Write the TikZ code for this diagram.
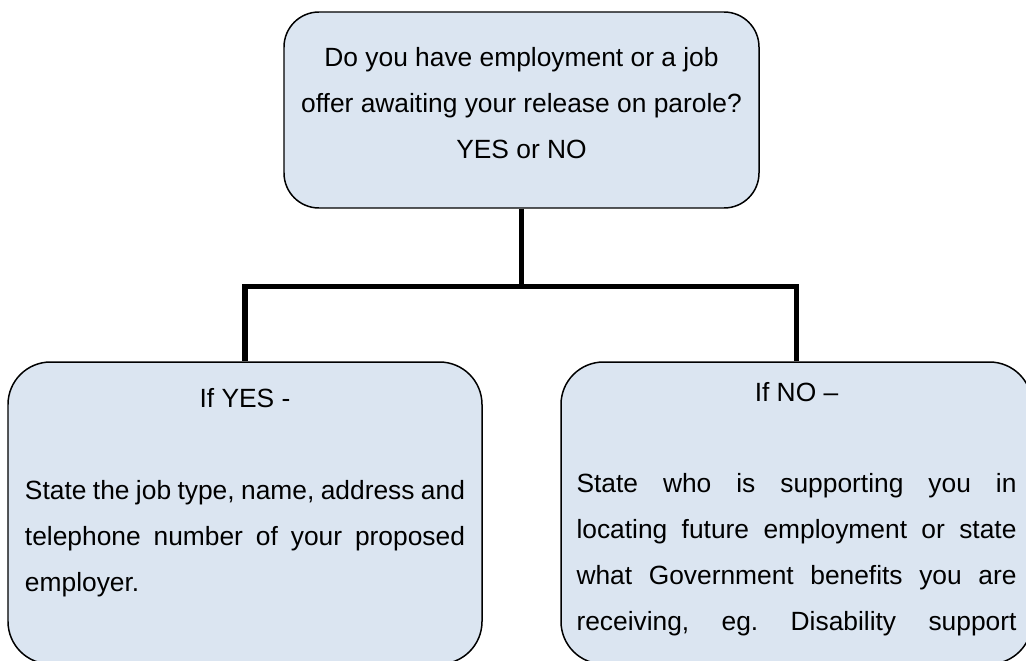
\documentclass[tikz,border=0pt]{standalone}
\usepackage{fontspec}
\setmainfont{Liberation Sans}
\usepackage{xcolor}
\usepackage{tikz}
\usetikzlibrary{positioning}
\definecolor{boxfill}{RGB}{219, 229, 241}
\newcommand{\bodyfont}{\fontsize{15}{26.2}\selectfont\frenchspacing}

\begin{document}
\begin{tikzpicture}[
    qbox/.style={rectangle, draw=black, line width=0.85pt, fill=boxfill, rounded corners=0.7cm,
                 minimum width=9.5cm, minimum height=3.92cm, align=center, font=\bodyfont,
                 text depth=0.28cm},
    branch/.style={rectangle, draw=black, line width=0.85pt, fill=boxfill, rounded corners=0.85cm,
                   minimum height=6.04cm},
    head/.style={inner sep=0pt, font=\bodyfont},
    body/.style={inner sep=0pt, text width=8.8cm, align=justify, font=\bodyfont},
    link/.style={line width=3.1pt, black}
]
\useasboundingbox (0,0) rectangle (20.52,-13.22);

% Question
\node[qbox] (question) at (10.43,-2.20) {Do you have employment or a job\\offer awaiting your release on parole?\\YES or NO};

% Answers
\node[branch, minimum width=9.48cm] (yes) at (4.90,-10.26) {};
\node[branch, minimum width=9.42cm] (no) at (15.93,-10.26) {};

% Tree lines
\draw[link] (question.south) -- ++(0,-1.55) -| (yes.north);
\draw[link] (question.south) -- ++(0,-1.55) -| (no.north);

% Texts
\node[head, below=0.54cm of yes.north] (yeshead) {If YES -};
\node[body, below=2.38cm of yes.north] (yestext) {State the job type, name, address and\linebreak telephone number of your proposed\linebreak employer.};
\node[head, below=0.42cm of no.north] (nohead) {If NO –};
\node[body, below=2.24cm of no.north] (notext) {State who is supporting you in\linebreak locating future employment or state\linebreak what Government benefits you are\linebreak receiving, eg.\ Disability support\parfillskip=0pt\par};

\end{tikzpicture}
\end{document}
